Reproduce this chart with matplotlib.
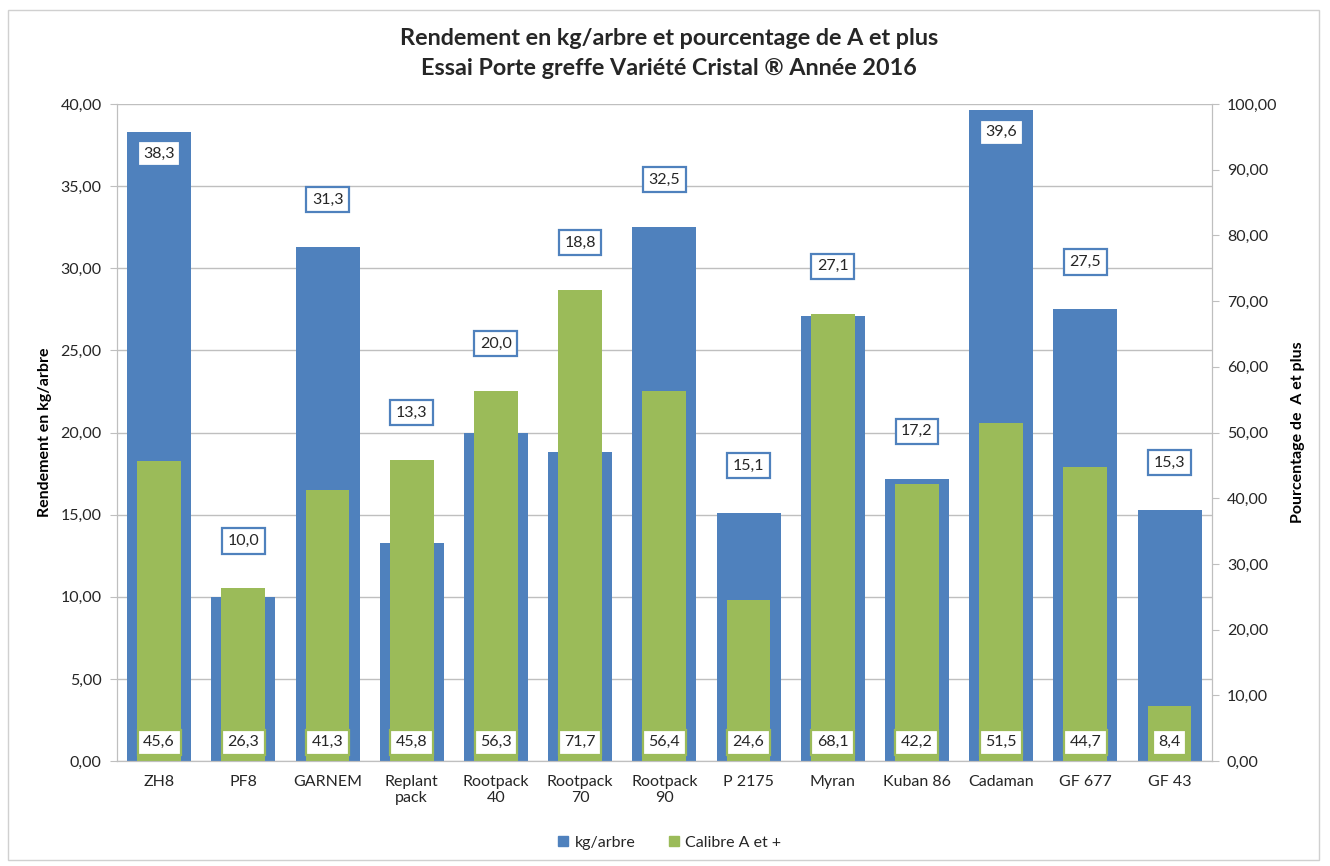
import matplotlib
matplotlib.use("Agg")
import matplotlib.pyplot as plt
from matplotlib.patches import Rectangle
from matplotlib.lines import Line2D

plt.rcParams['font.family'] = ['Lato', 'DejaVu Sans']

categories = ["ZH8", "PF8", "GARNEM", "Replant\npack", "Rootpack\n40", "Rootpack\n70",
              "Rootpack\n90", "P 2175", "Myran", "Kuban 86", "Cadaman", "GF 677", "GF 43"]
kg_arbre = [38.3, 10.0, 31.3, 13.3, 20.0, 18.8, 32.5, 15.1, 27.1, 17.2, 39.6, 27.5, 15.3]
calibre = [45.6, 26.3, 41.3, 45.8, 56.3, 71.7, 56.4, 24.6, 68.1, 42.2, 51.5, 44.7, 8.4]
left_ticks = [0, 5, 10, 15, 20, 25, 30, 35, 40]
right_ticks = [0, 10, 20, 30, 40, 50, 60, 70, 80, 90, 100]

BLUE = "#4F81BD"
GREEN = "#9BBB59"
GRID = "#BFBFBF"
TXT = "#262626"

def fr(v, d):
    return f"{v:.{d}f}".replace(".", ",")

fig = plt.figure(figsize=(13.3, 8.66), dpi=100)
fig.patches.append(Rectangle((0.006, 0.007), 0.986, 0.981, transform=fig.transFigure,
                             fill=False, edgecolor="#D0D0D0", linewidth=1.0))

ax = fig.add_axes([0.088, 0.121, 0.823, 0.759])
ax2 = ax.twinx()

x = list(range(len(categories)))
ax.bar(x, kg_arbre, width=0.76, color=BLUE, zorder=2)
ax2.bar(x, calibre, width=0.52, color=GREEN, zorder=2)

ax.set_xlim(-0.5, len(categories) - 0.5)
ax.set_ylim(0, 40)
ax2.set_ylim(0, 100)
ax.set_yticks(left_ticks)
ax.set_yticklabels([fr(t, 2) for t in left_ticks])
ax2.set_yticks(right_ticks)
ax2.set_yticklabels([fr(t, 2) for t in right_ticks])
ax.set_xticks(x)
ax.set_xticklabels(categories)

ax.set_axisbelow(True)
ax.yaxis.grid(True, color=GRID, linewidth=1.0)
for a in (ax, ax2):
    a.spines['top'].set_visible(False)
    for s in ('left', 'right', 'bottom'):
        a.spines[s].set_color(GRID)
ax.tick_params(axis='y', length=5, color=GRID, labelsize=11.5, labelcolor=TXT, pad=6)
ax2.tick_params(axis='y', length=5, color=GRID, labelsize=11.5, labelcolor=TXT, pad=6)
ax.tick_params(axis='x', length=0, labelsize=11.5, labelcolor=TXT, pad=10)

ax.set_ylabel("Rendement en kg/arbre", fontsize=11.5, fontweight='bold', color='black', labelpad=6)
ax2.set_ylabel("Pourcentage de  A et plus", fontsize=11.5, fontweight='bold', color='black', labelpad=10)

# labels (drawn in ax2 so they sit above both bar series)
ratio = 100 / 40
for i, (k, c) in enumerate(zip(kg_arbre, calibre)):
    if k > 35:
        yk = k * ratio - 3.3
    else:
        yk = max(k * ratio, c) + 7.2
    ax2.text(i, yk, fr(k, 1), ha='center', va='center', fontsize=11.5, color=TXT, zorder=5,
             bbox=dict(boxstyle='square,pad=0.35', facecolor='white', edgecolor=BLUE, linewidth=1.6))
    ax2.text(i, 2.9, fr(c, 1), ha='center', va='center', fontsize=11.5, color=TXT, zorder=5,
             bbox=dict(boxstyle='square,pad=0.35', facecolor='white', edgecolor=GREEN, linewidth=1.6))

fig.text(0.503, 0.956, "Rendement en kg/arbre et pourcentage de A et plus", ha='center', va='center',
         fontsize=16.8, fontweight='bold', color=TXT)
fig.text(0.503, 0.921, "Essai Porte greffe Variété Cristal ® Année 2016", ha='center', va='center',
         fontsize=16.8, fontweight='bold', color=TXT)

handles = [Line2D([], [], marker='s', linestyle='none', markersize=7, color=BLUE),
           Line2D([], [], marker='s', linestyle='none', markersize=7, color=GREEN)]
fig.legend(handles, ["kg/arbre", "Calibre A et +"], loc='center', bbox_to_anchor=(0.503, 0.027),
           ncol=2, frameon=False, fontsize=11.5, handlelength=0.8, handletextpad=0.3,
           columnspacing=2.0, labelcolor=TXT)

fig.savefig("out.png", dpi=100)
